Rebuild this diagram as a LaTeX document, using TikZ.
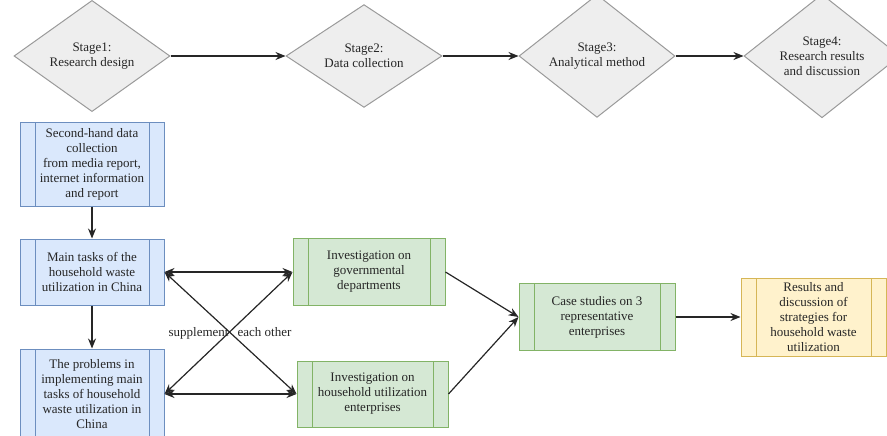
\documentclass[tikz,border=0pt]{standalone}
\usepackage{fontspec}
\setmainfont{Liberation Serif}
\usetikzlibrary{shapes.geometric,arrows.meta}
\definecolor{dfill}{HTML}{EEEEEE}
\definecolor{ddraw}{HTML}{9A9A9A}
\definecolor{bfill}{HTML}{DAE8FC}
\definecolor{bdraw}{HTML}{6C8EBF}
\definecolor{gfill}{HTML}{D5E8D4}
\definecolor{gdraw}{HTML}{82B366}
\definecolor{yfill}{HTML}{FFF2CC}
\definecolor{ydraw}{HTML}{D6B656}
\tikzset{
  x=1pt, y=-1pt,
  every node/.style={font=\fontsize{13}{15}\selectfont, align=center, inner sep=0pt, text=black!85},
  stagebox/.style={diamond, draw=ddraw, fill=dfill, line width=1pt, minimum width=156pt, minimum height=88pt},
  procbox/.style={rectangle, draw=#1, line width=1pt,
    path picture={\draw[#1, line width=1pt]
      ([xshift=15pt]path picture bounding box.north west) -- ([xshift=15pt]path picture bounding box.south west)
      ([xshift=-15pt]path picture bounding box.north east) -- ([xshift=-15pt]path picture bounding box.south east);}},
  bluebox/.style={procbox=bdraw, fill=bfill},
  greenbox/.style={procbox=gdraw, fill=gfill},
  yellowbox/.style={procbox=ydraw, fill=yfill},
  arr/.style={-{Stealth[length=10pt,width=8pt]}, line width=1.2pt, black!85},
  darr/.style={{Stealth[length=10pt,width=8pt]}-{Stealth[length=10pt,width=8pt]}, line width=1.2pt, black!85}
}
\begin{document}
\begin{tikzpicture}
\useasboundingbox (0,0) rectangle (887,436);
% stages
\node[stagebox] (s1) at (92,56) {Stage1:\\Research design};
\node[stagebox] (s2) at (364,56) {Stage2:\\Data collection};
\node[stagebox] (s3) at (597,56) {Stage3:\\Analytical method};
\node[stagebox] (s4) at (822,56) {Stage4:\\Research results\\and discussion};
\draw[arr] (s1.east) -- (s2.west);
\draw[arr] (s2.east) -- (s3.west);
\draw[arr] (s3.east) -- (s4.west);
% blue boxes
\node[bluebox, minimum width=144pt, minimum height=84pt] (b1) at (92,164)
  {Second-hand data\\collection\\from media report,\\internet information\\and report};
\node[bluebox, minimum width=144pt, minimum height=66pt] (b2) at (92,272)
  {Main tasks of the\\household waste\\utilization in China};
\node[bluebox, minimum width=144pt, minimum height=90pt] (b3) at (92,394)
  {The problems in\\implementing main\\tasks of household\\waste utilization in\\China};
\draw[arr] (b1) -- (b2);
\draw[arr] (b2) -- (b3);
% green boxes
\node[greenbox, minimum width=152pt, minimum height=67pt] (g1) at (369,272)
  {Investigation on\\governmental\\departments};
\node[greenbox, minimum width=151pt, minimum height=66pt] (g2) at (372.5,394)
  {Investigation on\\household utilization\\enterprises};
\node[greenbox, minimum width=156pt, minimum height=67pt] (g3) at (597,317)
  {Case studies on 3\\representative\\enterprises};
\node[yellowbox, minimum width=145pt, minimum height=78pt] (y1) at (813.5,317)
  {Results and\\discussion of\\strategies for\\household waste\\utilization};
% connectors
\draw[darr] (b2.east) -- (g1.west);
\draw[darr] (b3.east) -- (g2.west);
\draw[darr] (b2.east) -- (g2.west);
\draw[darr] (b3.east) -- (g1.west);
\node (lab) at (230,333) {supplement\hspace{9pt}each other};
\draw[arr] (g1.east) -- (g3.west);
\draw[arr] (g2.east) -- (g3.west);
\draw[arr] (g3.east) -- (y1.west);
\end{tikzpicture}
\end{document}
